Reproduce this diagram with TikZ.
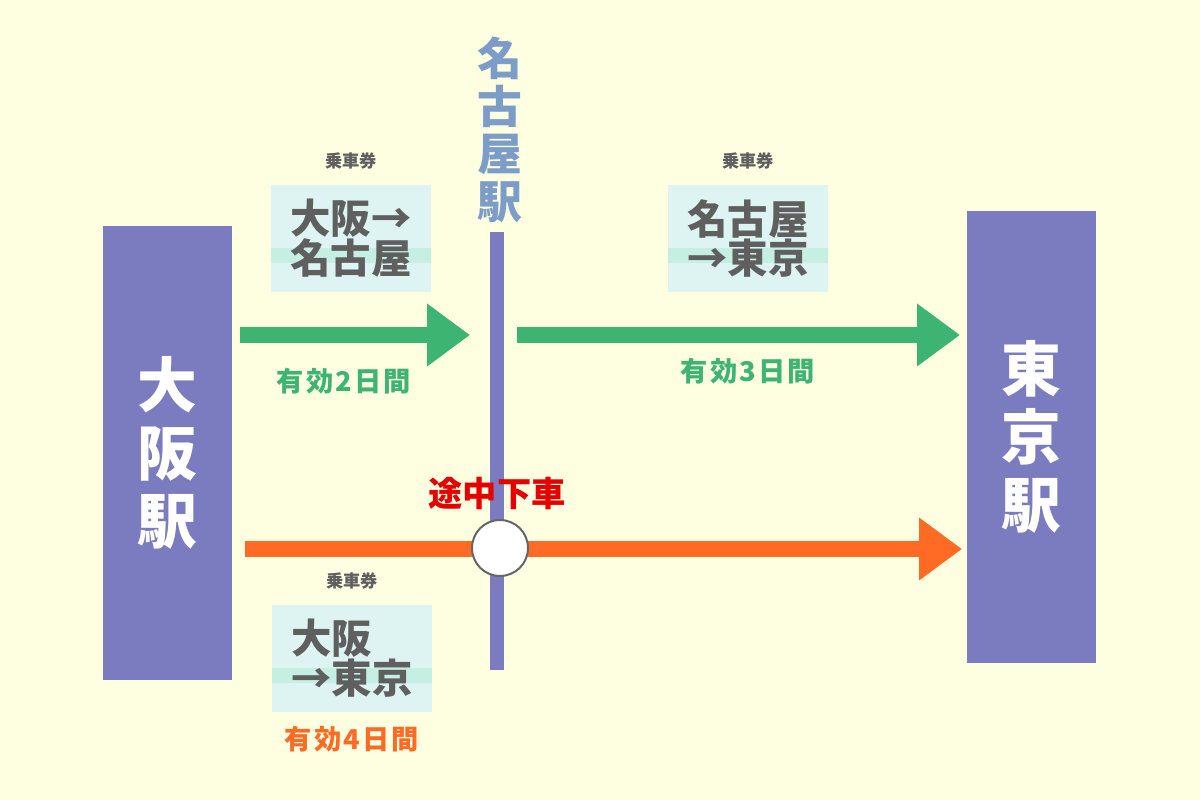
\documentclass[tikz,border=0pt]{standalone}
\usepackage{fontspec}
\newfontfamily\jp{Noto Sans CJK JP}
\newfontfamily\jpwide{Noto Sans CJK JP}[LetterSpace=8]
\usetikzlibrary{arrows.meta, positioning}

\definecolor{bgyellow}{HTML}{FEFEE1}
\definecolor{stationblue}{HTML}{7B7BC0}
\definecolor{namesteel}{HTML}{7C9DC8}
\definecolor{routegreen}{HTML}{3DB471}
\definecolor{routeorange}{HTML}{FF6A24}
\definecolor{ticketcyan}{HTML}{DDF4F2}
\definecolor{ticketband}{HTML}{C6EFE4}
\definecolor{ticketgray}{HTML}{5F5F5F}
\definecolor{stopred}{HTML}{E60000}

\begin{document}
\begin{tikzpicture}[x=0.02cm, y=-0.02cm,
  station/.style={fill=stationblue, inner sep=0pt, minimum width=2.58cm, text=white, align=center,
    font=\jp\bfseries\fontsize{34pt}{38.5pt}\selectfont},
  ticket/.style={fill=ticketcyan, inner sep=0pt, minimum width=3.2cm, minimum height=2.14cm,
    text=ticketgray, align=left, font=\jp\bfseries\fontsize{23pt}{22.7pt}\selectfont,
    path picture={\fill[ticketband] ([yshift=-1.26cm]path picture bounding box.north west)
      rectangle ([yshift=-1.56cm]path picture bounding box.north east);}},
  caption/.style={text=ticketgray, inner sep=0pt, font=\jp\bfseries\fontsize{9.8pt}{10pt}\selectfont},
  valid/.style={inner sep=0pt, font=\jpwide\bfseries\fontsize{15.5pt}{16pt}\selectfont},
  route/.style={line width=0.34cm, -{Triangle[length=0.86cm, width=1.2cm]}}]

\fill [bgyellow] (0,0) rectangle (1200,800);
\useasboundingbox (0,0) rectangle (1200,800);

\node [station, minimum height=9.08cm] (osaka) at (167.5,453) {大\\阪\\駅};
\node [station, minimum height=9.04cm] (tokyo) at (1031.5,437) {東\\京\\駅};

\coordinate (linetop) at (497,232);
\coordinate (linebot) at (497,670);
\draw [stationblue, line width=0.28cm] (linetop) -- (linebot);
\node [text=namesteel, inner sep=0pt, align=center,
  font=\jp\bfseries\fontsize{25.5pt}{27pt}\selectfont] (nagoya) at (500,130) {名\\古\\屋\\駅};

\node [ticket] (ticketa) at (351,238.5) {大阪→\\名古屋};
\node [ticket] (ticketb) at (748,238.5) {名古屋\\→東京};
\node [ticket] (ticketc) at (352,658.5) {大阪\\→東京};
\node [caption, above=0.3cm of ticketa] (captiona) {乗車券};
\node [caption, above=0.3cm of ticketb] (captionb) {乗車券};
\node [caption, above=0.3cm of ticketc] (captionc) {乗車券};

\coordinate (ga) at (240,335);
\coordinate (gb) at (470,335);
\coordinate (gc) at (517,335);
\coordinate (gd) at (960,335);
\draw [route, routegreen] (ga) -- (gb);
\draw [route, routegreen] (gc) -- (gd);
\node [valid, text=routegreen] (valida) at (344,381) {有効2日間};
\node [valid, text=routegreen] (validb) at (748,371) {有効3日間};

\coordinate (oa) at (245,549);
\coordinate (ob) at (962,549);
\draw [route, routeorange, line width=0.32cm] (oa) -- (ob);
\node [circle, draw=black!60, fill=white, line width=0.04cm, minimum size=1.12cm, inner sep=0pt] (stop) at (500,548) {};
\node [inner sep=0pt, text=stopred, font=\jp\bfseries\fontsize{19.5pt}{20pt}\selectfont] (stoplabel) at (497,493) {途中下車};
\node [valid, text=routeorange, below=0.26cm of ticketc] (validc) {有効4日間};
\end{tikzpicture}
\end{document}
